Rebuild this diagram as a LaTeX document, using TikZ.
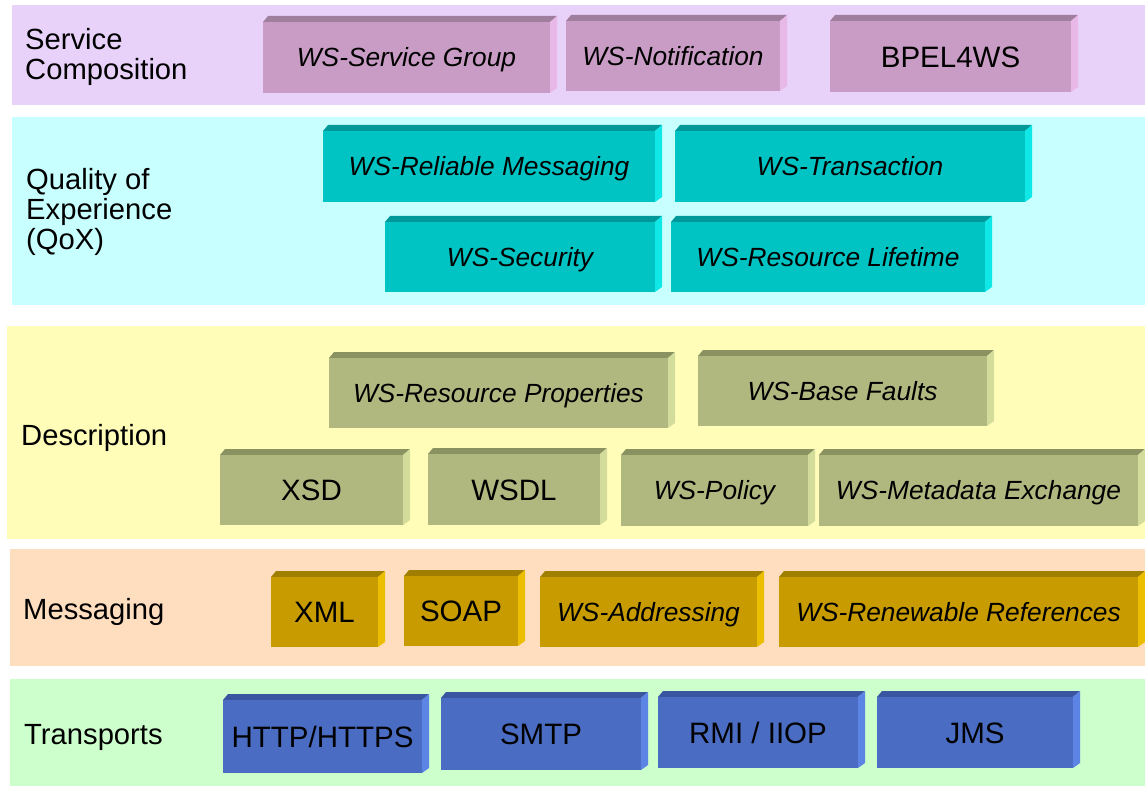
\documentclass[tikz,border=0pt]{standalone}
\usepackage{fontspec}
\setmainfont{Liberation Sans}
\definecolor{bgSC}{HTML}{E8D2FA}
\definecolor{bgQ}{HTML}{C8FFFF}
\definecolor{bgD}{HTML}{FFFDB8}
\definecolor{bgM}{HTML}{FFDEC0}
\definecolor{bgT}{HTML}{CCFFCC}
\definecolor{scF}{HTML}{C89CC4}
\definecolor{scT}{HTML}{A07E9E}
\definecolor{scS}{HTML}{E8B8E6}
\definecolor{qF}{HTML}{00C4C4}
\definecolor{qT}{HTML}{009898}
\definecolor{qS}{HTML}{10E8E8}
\definecolor{dF}{HTML}{B0B880}
\definecolor{dT}{HTML}{8A9262}
\definecolor{dS}{HTML}{D4DC9C}
\definecolor{mF}{HTML}{C89C00}
\definecolor{mT}{HTML}{A07E00}
\definecolor{mS}{HTML}{ECBE00}
\definecolor{tF}{HTML}{4A6CC2}
\definecolor{tT}{HTML}{3A56A0}
\definecolor{tS}{HTML}{5C84E4}
\tikzset{
  lbl/.style={inner sep=0pt, anchor=base, yshift=-10.6pt, text=black, font=\fontsize{29.5}{31}\selectfont},
  itl/.style={inner sep=0pt, anchor=base, yshift=-9.4pt, text=black, font=\fontsize{26.3}{30}\selectfont\itshape},
  layerlbl/.style={inner sep=0pt, anchor=base west, align=left, text=black, font=\fontsize{29.2}{30}\selectfont},
}
% #1 name, #2 x1, #3 y1, #4 x2, #5 y2, #6 layer prefix, #7 style, #8 text
\newcommand\wsbox[8]{%
  \fill[#6T] (#2,#3) -- (#2+5,#3-6) -- (#4+7,#3-6) -- (#4,#3) -- cycle;
  \fill[#6S] (#4,#3) -- (#4+7,#3-6) -- (#4+7,#5-5) -- (#4,#5) -- cycle;
  \fill[#6F] (#2,#3) rectangle (#4,#5);
  \node[#7] (#1) at ({(#2+#4)/2},{(#3+#5)/2}) {#8};
}
\begin{document}
\begin{tikzpicture}[x=1pt,y=-1pt]
\useasboundingbox (0,0) rectangle (1145,786);
\fill[white] (0,0) rectangle (1145,786);
% bands
\fill[bgSC] (12,5) rectangle (1145,105);
\fill[bgQ] (12,117) rectangle (1145,305);
\fill[bgD] (7,326) rectangle (1145,539);
\fill[bgM] (10,549) rectangle (1145,666);
\fill[bgT] (10,679) rectangle (1145,786);
% layer labels
\node[layerlbl] (lsc) at (25,80) {Service\\Composition};
\node[layerlbl] (lq) at (26,250) {Quality of\\Experience\\(QoX)};
\node[layerlbl] (ld) at (21,445) {Description};
\node[layerlbl] (lm) at (23,619) {Messaging};
\node[layerlbl] (lt) at (24,744) {Transports};
% service composition
\wsbox{sg}{263}{22}{550}{93}{sc}{itl}{WS-Service Group}
\wsbox{sn}{566}{21}{780}{91}{sc}{itl}{WS-Notification}
\wsbox{bpel}{830}{21}{1071}{92}{sc}{lbl}{BPEL4WS}
% QoX
\wsbox{rm}{323}{131}{655}{202}{q}{itl}{WS-Reliable Messaging}
\wsbox{tx}{675}{131}{1025}{202}{q}{itl}{WS-Transaction}
\wsbox{sec}{385}{222}{655}{292}{q}{itl}{WS-Security}
\wsbox{rl}{671}{222}{985}{292}{q}{itl}{WS-Resource Lifetime}
% description
\wsbox{rp}{329}{358}{668}{428}{d}{itl}{WS-Resource Properties}
\wsbox{bf}{698}{356}{987}{426}{d}{itl}{WS-Base Faults}
\wsbox{xsd}{220}{455}{403}{525}{d}{lbl}{XSD}
\wsbox{wsdl}{428}{454}{600}{525}{d}{lbl}{WSDL}
\wsbox{pol}{621}{455}{808}{526}{d}{itl}{WS-Policy}
\wsbox{mex}{819}{455}{1138}{526}{d}{itl}{WS-Metadata Exchange}
% messaging
\wsbox{xml}{271}{577}{378}{647}{m}{lbl}{XML}
\wsbox{soap}{404}{576}{518}{646}{m}{lbl}{SOAP}
\wsbox{wsa}{540}{577}{757}{647}{m}{itl}{WS-Addressing}
\wsbox{wrr}{779}{577}{1138}{647}{m}{itl}{WS-Renewable References}
% transports
\wsbox{http}{223}{700}{422}{773}{t}{lbl}{HTTP/HTTPS}
\wsbox{smtp}{441}{698}{641}{770}{t}{lbl}{SMTP}
\wsbox{rmi}{658}{697}{858}{768}{t}{lbl}{RMI / IIOP}
\wsbox{jms}{877}{697}{1073}{768}{t}{lbl}{JMS}
\end{tikzpicture}
\end{document}
